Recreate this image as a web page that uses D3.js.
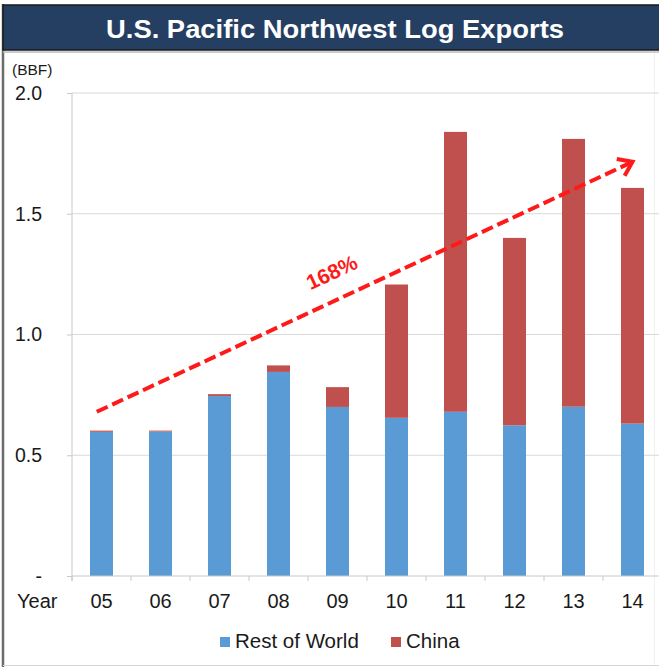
<!DOCTYPE html>
<html>
<head>
<meta charset="utf-8">
<script src="https://cdn.jsdelivr.net/npm/d3@7"></script>
<style>
  body { margin: 0; background: #fff; }
  svg { display: block; font-family: "Liberation Sans", Arial, sans-serif; }
</style>
</head>
<body>
<div id="chart"></div>
<script>
// values (BBF)
const years = ["05", "06", "07", "08", "09", "10", "11", "12", "13", "14"];
const restOfWorld = [0.597, 0.598, 0.745, 0.845, 0.700, 0.655, 0.680, 0.624, 0.701, 0.631];
const china = [0.005, 0.004, 0.008, 0.027, 0.082, 0.552, 1.159, 0.776, 1.109, 0.976];
const yTicks = [0, 0.5, 1.0, 1.5, 2.0];
const seriesNames = ["Rest of World", "China"];
const seriesColors = ["#5b9bd5", "#c0504d"];
// trend arrow, in data terms
const arrowFrom = { year: "05", value: 0.68 };
const arrowTo = { year: "14", value: 1.715 };
const arrowLabel = "168%";

const width = 659, height = 668;
const margin = { top: 93, left: 72, bottom: 92 };

const svg = d3.select("#chart").append("svg")
    .attr("width", width)
    .attr("height", height);

// frame + title bar
svg.append("line")
    .attr("x1", 3).attr("x2", 3).attr("y1", 4).attr("y2", 667)
    .style("stroke", "#6b6b6b").style("stroke-width", 2.5);
svg.append("line")
    .attr("x1", 3).attr("x2", width).attr("y1", 665.5).attr("y2", 665.5)
    .style("stroke", "#d6d6d6");
svg.append("line")
    .attr("x1", 654.5).attr("x2", 654.5).attr("y1", 52).attr("y2", 665)
    .style("stroke", "#f0f0f0");
svg.append("rect")
    .attr("x", 3).attr("y", 5).attr("width", width).attr("height", 45)
    .style("fill", "#253f63").style("stroke", "#1a1a1a").style("stroke-width", 1.5);
svg.append("line")
    .attr("x1", 3).attr("x2", width).attr("y1", 52).attr("y2", 52)
    .style("stroke", "#bdbdbd").style("stroke-width", 1.5);
svg.append("text")
    .attr("x", 335).attr("y", 38)
    .attr("text-anchor", "middle")
    .style("fill", "#fff").style("font-weight", "bold").style("font-size", "26px")
    .attr("textLength", 458).attr("lengthAdjust", "spacingAndGlyphs")
    .text("U.S. Pacific Northwest Log Exports");

// scales
const x = d3.scaleBand().domain(years).range([margin.left, 662]).padding(0);
const y = d3.scaleLinear().domain([0, 2]).range([height - margin.bottom, margin.top]);
const barW = x.bandwidth() * 0.39;

// y axis ticks + labels
const yAxis = svg.append("g")
    .attr("transform", `translate(${margin.left},0)`)
    .call(d3.axisLeft(y).tickValues(yTicks).tickSize(5).tickPadding(25)
        .tickFormat(d => d === 0 ? "-" : d3.format(".1f")(d)));
yAxis.select(".domain").remove();
yAxis.selectAll(".tick line").style("stroke", "#c8c8c8");
yAxis.selectAll(".tick text")
    .style("font-size", "19.5px").style("fill", "#1a1a1a")
    .attr("font-family", null);

// gridlines
svg.append("g").selectAll("line")
    .data(yTicks.filter(d => d > 0)).enter()
    .append("line")
    .attr("x1", margin.left).attr("x2", width)
    .attr("y1", d => y(d)).attr("y2", d => y(d))
    .style("stroke", "#d9d9d9");

svg.append("line")
    .attr("x1", margin.left).attr("x2", margin.left)
    .attr("y1", y(2)).attr("y2", y(0) + 5)
    .style("stroke", "#c8c8c8");

svg.append("text")
    .attr("x", 12).attr("y", 75)
    .style("font-size", "15.5px").style("fill", "#1a1a1a")
    .text("(BBF)");

// stacked bars
const rows = years.map((yr, i) => ({ year: yr, row: restOfWorld[i], china: china[i] }));
const stack = d3.stack().keys(["row", "china"])(rows);

svg.append("g").selectAll("g")
    .data(stack).enter()
    .append("g")
    .style("fill", (d, i) => seriesColors[i])
    .selectAll("rect")
    .data(d => d).enter()
    .append("rect")
    .attr("x", d => x(d.data.year) + (x.bandwidth() - barW) / 2)
    .attr("width", barW)
    .attr("y", d => y(d[1]))
    .attr("height", d => y(d[0]) - y(d[1]));

// x axis
svg.append("line")
    .attr("x1", margin.left).attr("x2", width)
    .attr("y1", y(0)).attr("y2", y(0))
    .style("stroke", "#c8c8c8");
svg.append("g").selectAll("line")
    .data(years.concat(["end"])).enter()
    .append("line")
    .attr("x1", d => d === "end" ? x.range()[1] : x(d))
    .attr("x2", d => d === "end" ? x.range()[1] : x(d))
    .attr("y1", y(0)).attr("y2", y(0) + 5)
    .style("stroke", "#c8c8c8");
svg.append("g").selectAll("text")
    .data(years).enter()
    .append("text")
    .attr("x", d => x(d) + x.bandwidth() / 2)
    .attr("y", 608)
    .attr("text-anchor", "middle")
    .style("font-size", "20px").style("fill", "#1a1a1a")
    .text(d => d);
svg.append("text")
    .attr("x", 17).attr("y", 608)
    .style("font-size", "20px").style("fill", "#1a1a1a")
    .text("Year");

// trend arrow
const ax1 = x(arrowFrom.year) + x.bandwidth() * 0.42, ay1 = y(arrowFrom.value);
const ax2 = x(arrowTo.year) + x.bandwidth() / 2, ay2 = y(arrowTo.value);
const ang = Math.atan2(ay2 - ay1, ax2 - ax1);
const red = "#ff1a1a";

svg.append("line")
    .attr("x1", ax1).attr("y1", ay1)
    .attr("x2", ax2 - 3 * Math.cos(ang)).attr("y2", ay2 - 3 * Math.sin(ang))
    .style("stroke", red).style("stroke-width", 4)
    .style("stroke-dasharray", "12,5");

const arm = 16, spread = 0.62;
svg.append("path")
    .attr("d", `M${ax2 - arm * Math.cos(ang - spread)},${ay2 - arm * Math.sin(ang - spread)}`
        + `L${ax2},${ay2}`
        + `L${ax2 - arm * Math.cos(ang + spread)},${ay2 - arm * Math.sin(ang + spread)}`)
    .style("fill", "none").style("stroke", red).style("stroke-width", 4)
    .style("stroke-linejoin", "miter");

const t = 0.46, off = 27;
const lx = ax1 + (ax2 - ax1) * t + off * Math.sin(ang);
const ly = ay1 + (ay2 - ay1) * t - off * Math.cos(ang);
svg.append("text")
    .attr("transform", `translate(${lx},${ly}) rotate(${ang * 180 / Math.PI})`)
    .attr("text-anchor", "middle").attr("dy", "0.35em")
    .style("fill", red).style("font-weight", "bold").style("font-size", "21px")
    .text(arrowLabel);

// legend
const legend = svg.append("g").selectAll("g")
    .data(seriesNames).enter()
    .append("g")
    .attr("transform", (d, i) => `translate(${i === 0 ? 220 : 391},637)`);
legend.append("rect")
    .attr("width", 10).attr("height", 10)
    .style("fill", (d, i) => seriesColors[i]);
legend.append("text")
    .attr("x", 15).attr("y", 11)
    .style("font-size", "20.5px").style("fill", "#1a1a1a")
    .text(d => d);
</script>
</body>
</html>
